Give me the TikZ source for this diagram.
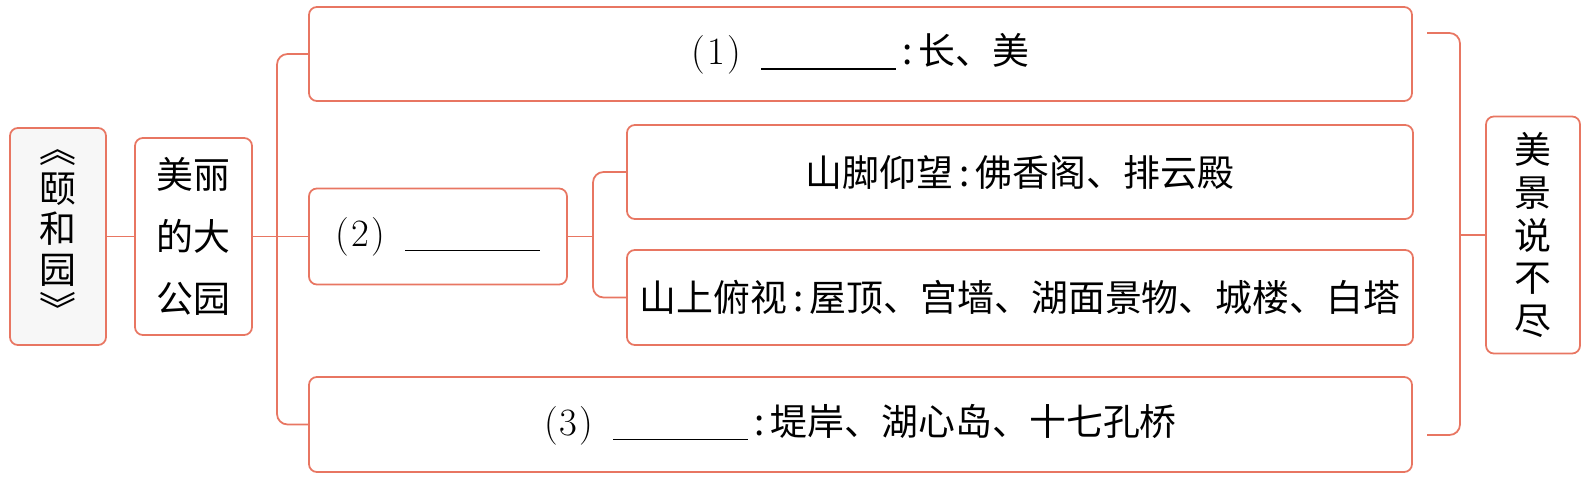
\documentclass[tikz,border=0pt]{standalone}
\usepackage{fontspec}
\newfontfamily\cjk{Noto Sans CJK SC}
\usepackage{tikz}
\usetikzlibrary{positioning,calc}
\definecolor{lineRed}{RGB}{232,118,98}
\tikzset{mbox/.style={draw=lineRed, line width=1pt, rounded corners=4.5pt, inner sep=0pt, outer sep=0pt, align=center, font=\cjk\fontsize{21}{21}\selectfont}}
\tikzset{vbox/.style args={#1}{mbox, font=\cjk\fontsize{21}{#1}\selectfont}}
\tikzset{link/.style={draw=lineRed, line width=1pt, rounded corners=6pt}}
\newcommand\gapline[1]{{\rmfamily\fontsize{22}{22}\selectfont(\hspace{0.05em}#1\hspace{0.05em})}\hspace{0.55em}\rule[-0.14em]{2.7cm}{0.9pt}}

\begin{document}
\begin{tikzpicture}
			\useasboundingbox (0,0) rectangle (31.8,-9.68);
			\node[vbox=22.8, fill=black!3, minimum width=1.92cm, minimum height=4.34cm] (yhy) at (1.16,-4.73) {︽\\颐\\和\\园\\︾};
			\node[vbox=35.3, right=0.58cm of yhy, minimum width=2.34cm, minimum height=3.94cm] (park) {美丽\\的大\\公园};
			\node[mbox, right=1.14cm of park, minimum width=5.16cm, minimum height=1.92cm] (q2) {\gapline{2}};
			\node[mbox, anchor=west, minimum width=22.06cm, minimum height=1.88cm] (q1) at ([yshift=3.65cm]q2.west) {\gapline{1}\,:\,长、美};
			\node[mbox, anchor=west, minimum width=22.06cm, minimum height=1.9cm] (q3) at ([yshift=-3.76cm]q2.west) {\gapline{3}\,:\,堤岸、湖心岛、十七孔桥};
			\node[mbox, anchor=west, minimum width=15.72cm, minimum height=1.88cm] (foot) at ([xshift=1.2cm, yshift=1.29cm]q2.east) {山脚仰望\,:\,佛香阁、排云殿};
			\node[mbox, anchor=west, minimum width=15.72cm, minimum height=1.9cm] (top) at ([xshift=1.2cm, yshift=-1.22cm]q2.east) {山上俯视\,:\,屋顶、宫墙、湖面景物、城楼、白塔};
			\node[vbox=24.2, anchor=west, minimum width=1.88cm, minimum height=4.74cm] (endless) at ($(foot.east |- park.east)+(1.46,0.03)$) {美\\景\\说\\不\\尽};
			%
			\coordinate (trunk) at ($(park.east)+(0.5,0)$);
			\coordinate (fork) at ($(q2.east)+(0.52,0)$);
			\coordinate (brk) at ($(foot.east |- endless.west)+(0.94,0)$);
			\coordinate (brkTop) at ($(q1.east)+(0.3,0.42)$);
			\coordinate (brkBot) at ($(q3.east)+(0.3,-0.21)$);
			%
			\draw[link] (yhy) -- (park);
			\draw[link] (park) -- (q2);
			\draw[link] (q1.west) -| (trunk) |- (q3.west);
			\draw[link] (q2) -- (fork);
			\draw[link] (foot.west) -| (fork) |- (top.west);
			% closing bracket on the right
			\draw[link] (brkTop) -| (brk) |- (brkBot);
			\draw[link] (brk) -- (endless);
		\end{tikzpicture}
\end{document}
